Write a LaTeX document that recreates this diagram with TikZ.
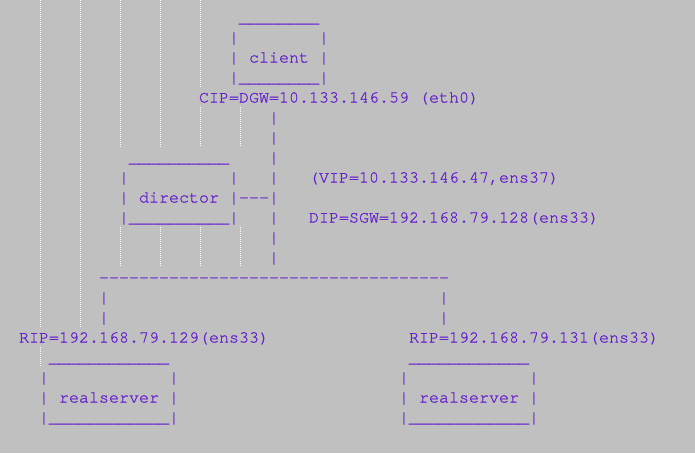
\documentclass[tikz,border=0pt]{standalone}
\usepackage{fontspec}
\setmonofont{TeX Gyre Cursor}[FakeBold=1]
\definecolor{bg}{RGB}{192,192,192}
\definecolor{ink}{RGB}{102,34,204}
\newcommand\cell[4]{\node[txt] (#1) at ({10*#3-1},{22.5+20*#2}) {#4};}
\begin{document}
\begin{tikzpicture}[x=1pt,y=-1pt,
  txt/.style={anchor=base west, inner sep=0pt, outer sep=0pt, text=ink,
    font=\ttfamily\fontsize{16.67}{20}\selectfont},
  guide/.style={draw=white, line width=1pt, dash pattern=on 1pt off 1pt}]
\fill[bg] (0,0) rectangle (695,453);
\useasboundingbox (0,0) rectangle (695,453);
% indent guides
\draw[guide] (40.5,0) -- (40.5,327) (40.5,347) -- (40.5,367);
\draw[guide] (80.5,0) -- (80.5,327);
\draw[guide] (120.5,0) -- (120.5,147) (120.5,227) -- (120.5,267);
\draw[guide] (160.5,0) -- (160.5,147) (160.5,227) -- (160.5,267);
\draw[guide] (200.5,0) -- (200.5,87) (200.5,107) -- (200.5,147) (200.5,227) -- (200.5,267);
\draw[guide] (240.5,107) -- (240.5,147) (240.5,227) -- (240.5,267);
% client
\cell{clTop}{0}{24}{\_\_\_\_\_\_\_\_}
\cell{clL1}{1}{23}{|}
\cell{clR1}{1}{32}{|}
\cell{client}{2}{23}{| client |}
\cell{clBot}{3}{23}{|\_\_\_\_\_\_\_\_|}
\cell{cip}{4}{20}{CIP=DGW=10.133.146.59 (eth0)}
\cell{v5}{5}{27}{|}
\cell{v6}{6}{27}{|}
% director
\cell{drTop}{7}{13}{\_\_\_\_\_\_\_\_\_\_}
\cell{v7}{7}{27}{|}
\cell{drL1}{8}{12}{|}
\cell{drR1}{8}{23}{|}
\cell{v8}{8}{27}{|}
\cell{vip}{8}{31}{(VIP=10.133.146.47,ens37)}
\cell{director}{9}{12}{| director |---|}
\cell{drBot}{10}{12}{|\_\_\_\_\_\_\_\_\_\_|}
\cell{v10}{10}{27}{|}
\cell{dip}{10}{31}{DIP=SGW=192.168.79.128(ens33)}
\cell{v11}{11}{27}{|}
\cell{v12}{12}{27}{|}
% bus
\cell{bus}{13}{10}{-----------------------------------}
\cell{l14}{14}{10}{|}
\cell{r14}{14}{44}{|}
\cell{l15}{15}{10}{|}
\cell{r15}{15}{44}{|}
\cell{ripA}{16}{2}{RIP=192.168.79.129(ens33)}
\cell{ripB}{16}{41}{RIP=192.168.79.131(ens33)}
% realservers
\cell{rsATop}{17}{5}{\_\_\_\_\_\_\_\_\_\_\_\_}
\cell{rsBTop}{17}{41}{\_\_\_\_\_\_\_\_\_\_\_\_}
\cell{rsAL}{18}{4}{|}
\cell{rsAR}{18}{17}{|}
\cell{rsBL}{18}{40}{|}
\cell{rsBR}{18}{53}{|}
\cell{rsA}{19}{4}{| realserver |}
\cell{rsB}{19}{40}{| realserver |}
\cell{rsABot}{20}{4}{|\_\_\_\_\_\_\_\_\_\_\_\_|}
\cell{rsBBot}{20}{40}{|\_\_\_\_\_\_\_\_\_\_\_\_|}
\end{tikzpicture}
\end{document}
